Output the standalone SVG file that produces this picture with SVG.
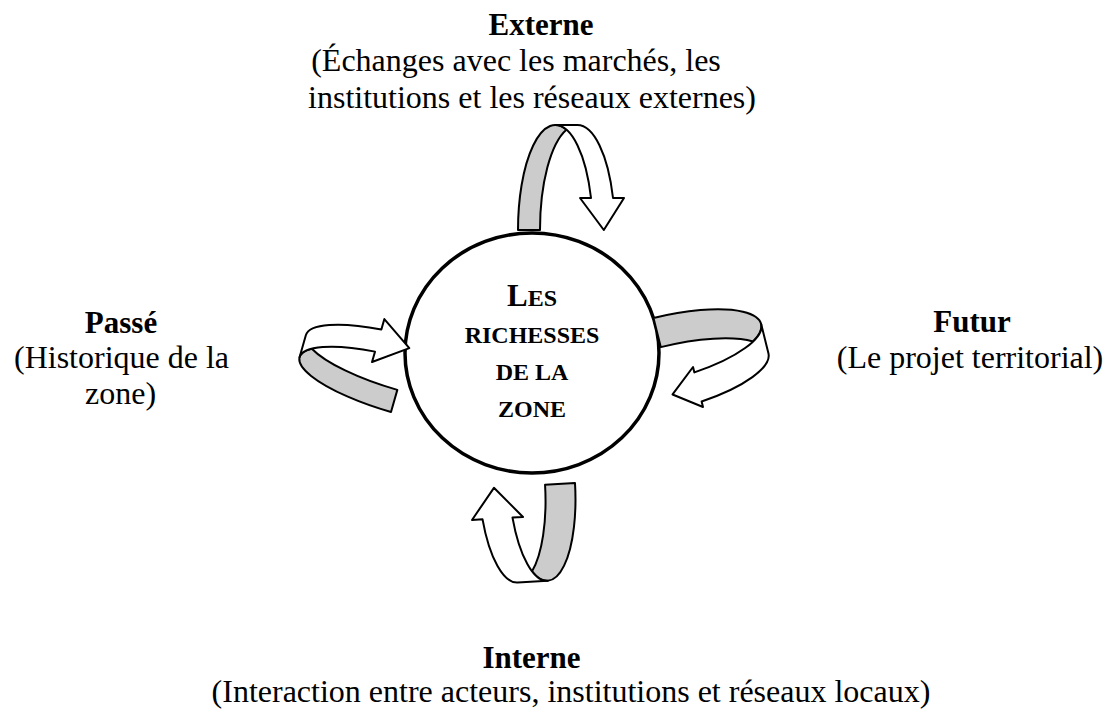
<svg xmlns="http://www.w3.org/2000/svg" width="1105" height="711" viewBox="0 0 1105 711">
<style>
  .t{font-family:"Liberation Serif","Times New Roman",serif;fill:#000;text-anchor:middle}
  .b{font-weight:bold;font-size:31px}
  .r{font-size:32px}
  .c{font-weight:bold;font-size:24px}
  .dark{fill:#cccccc;stroke:#000;stroke-width:2;stroke-linejoin:round}
  .light{fill:#fff;stroke:#000;stroke-width:2;stroke-linejoin:round}
</style>
<rect width="1105" height="711" fill="#fff"/>
<g id="centre">
  <ellipse cx="532" cy="353" rx="127" ry="120" fill="#fff" stroke="#000" stroke-width="3.5"/>
  <text class="t c" x="532" y="306"><tspan font-size="31">L</tspan>ES</text>
  <text class="t c" x="532" y="343">RICHESSES</text>
  <text class="t c" x="532" y="380">DE LA</text>
  <text class="t c" x="532" y="417">ZONE</text>
</g>
<g id="connectors">
  <g id="arrow-externe" transform="translate(518,125)">
    <path class="dark" d="M48.4,4.64 A37.4,105 0 0 0 22,105 L0,105 A37.4,105 0 0 1 48.4,4.64 Z"/>
    <path class="light" d="M73.02,73 A37.4,105 0 0 0 37.4,0 L59.4,0 A37.4,105 0 0 1 95.02,73 L106.02,73 L85.8,105 L62.02,73 Z"/>
  </g>
  <g id="arrow-futur" transform="translate(653.5,318) rotate(76) translate(0,-103)">
    <path class="dark" d="M46.89,12.11 A31.89,103 0 0 0 30,103 L0,103 A31.89,103 0 0 1 46.89,12.11 Z"/>
    <path class="light" d="M62.7,76.5 A31.89,103 0 0 0 31.89,0 L61.89,0 A31.89,103 0 0 1 92.7,76.5 L98.3,76.5 L78.8,103 L57.1,76.5 Z"/>
  </g>
  <g id="arrow-passe" transform="translate(391,412) rotate(-74) translate(0,-103)">
    <path class="dark" d="M39,9.44 A27.5,103 0 0 0 23,103 L0,103 A27.5,103 0 0 1 39,9.44 Z"/>
    <path class="light" d="M53.64,71 A27.5,103 0 0 0 27.5,0 L50.5,0 A27.5,103 0 0 1 76.64,71 L87.49,71 L66.5,103 L42.79,71 Z"/>
  </g>
  <g id="arrow-interne" transform="translate(575,483) rotate(176.6) translate(0,-96)">
    <path class="dark" d="M48.1,10.43 A33.1,96 0 0 0 30,96 L0,96 A33.1,96 0 0 1 48.1,10.43 Z"/>
    <path class="light" d="M64.45,65.2 A33.1,96 0 0 0 33.1,0 L63.1,0 A33.1,96 0 0 1 94.45,65.2 L105,65.2 L81.2,96 L53.9,65.2 Z"/>
  </g>
</g>
<g id="externe">
  <text class="t b" x="541" y="35">Externe</text>
  <text class="t r" x="516" y="71">(Échanges avec les marchés, les</text>
  <text class="t r" x="532" y="108">institutions et les réseaux externes)</text>
</g>
<g id="passe">
  <text class="t b" x="121" y="333">Passé</text>
  <text class="t r" x="121.5" y="368">(Historique de la</text>
  <text class="t r" x="120.5" y="404">zone)</text>
</g>
<g id="futur">
  <text class="t b" x="972" y="332">Futur</text>
  <text class="t r" x="970" y="368">(Le projet territorial)</text>
</g>
<g id="interne">
  <text class="t b" x="531.5" y="668">Interne</text>
  <text class="t r" x="571" y="702">(Interaction entre acteurs, institutions et réseaux locaux)</text>
</g>
</svg>
